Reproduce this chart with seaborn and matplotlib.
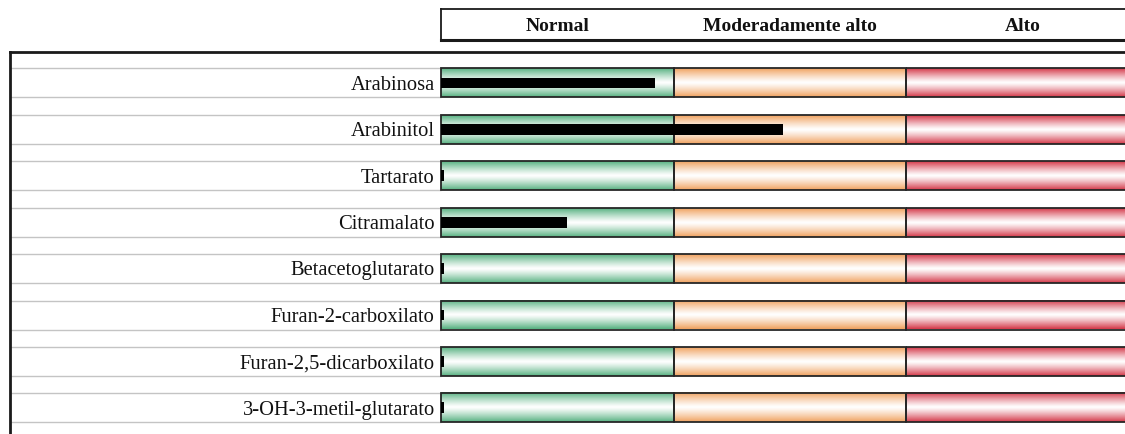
import numpy as np
import pandas as pd
import matplotlib
matplotlib.use("Agg")
import matplotlib.pyplot as plt
from matplotlib.patches import Rectangle
import seaborn as sns

# Analitos y valores relativos (0-1 normal, 1-2 moderadamente alto, 2-3 alto)
analitos = [
    "Arabinosa",
    "Arabinitol",
    "Tartarato",
    "Citramalato",
    "Betacetoglutarato",
    "Furan-2-carboxilato",
    "Furan-2,5-dicarboxilato",
    "3-OH-3-metil-glutarato",
]
valores = [0.92, 1.47, 0.012, 0.54, 0.012, 0.012, 0.012, 0.012]

zonas = ["Normal", "Moderadamente alto", "Alto"]
limites_zona = [0, 1, 2, 3.2]
colores_zona = ["#58b282", "#f0a260", "#d4394a"]

sns.set_theme(style="white")
plt.rcParams["font.family"] = ["Liberation Serif", "DejaVu Serif"]

W, H = 1125, 434
fig = plt.figure(figsize=(W / 100, H / 100), dpi=100)

# pixel geometry of the panel
px_left, px_zero, px_unit = 10, 441, 232.5
px_top, row0, row_step = 52, 83, 46.4
x_min = (px_left - px_zero) / px_unit
x_max = (W - px_zero) / px_unit
y_top = (px_top - row0) / row_step
y_bot = (H - row0) / row_step
half_band = 14.5 / row_step

ax = fig.add_axes([px_left / W, 0, 1 - px_left / W, 1 - px_top / H])

# gradient bands (dark edges, light centre)
t = np.linspace(0, 1, 64)
w = np.abs(2 * t - 1) ** 1.2
def gradiente(color):
    c = np.array(matplotlib.colors.to_rgb(color))
    img = w[:, None] * c[None, :] + (1 - w[:, None]) * np.ones(3)[None, :]
    return img[:, None, :]

for i, _ in enumerate(analitos):
    for k, col in enumerate(colores_zona):
        x0, x1 = limites_zona[k], limites_zona[k + 1]
        ax.imshow(gradiente(col), extent=(x0, x1, i + half_band, i - half_band),
                  aspect="auto", interpolation="bilinear", zorder=0)
        ax.add_patch(Rectangle((x0, i - half_band), x1 - x0, 2 * half_band,
                               fill=False, edgecolor="#262626", lw=1.3, zorder=0.6))
    # guide lines in the label area
    ax.hlines([i - half_band, i + half_band], x_min, 0, color="#c4c4c4", lw=1, zorder=0.5)
    ax.text(-0.027, i + 0.05, analitos[i], ha="right", va="center", fontsize=14.8,
            color="#111111")

df = pd.DataFrame({"analito": analitos, "valor": valores})
sns.barplot(data=df, x="valor", y="analito", orient="h", color="black",
            width=0.23, saturation=1, linewidth=0, edgecolor="black",
            ax=ax, zorder=2)

ax.set_xlim(x_min, x_max)
ax.set_ylim(y_bot, y_top)
ax.set_xlabel("")
ax.set_ylabel("")
ax.set_xticks([])
ax.set_yticks([])
for s in ["right", "bottom"]:
    ax.spines[s].set_visible(False)
for s in ["left", "top"]:
    ax.spines[s].set_visible(True)
    ax.spines[s].set_color("#1a1a1a")
    ax.spines[s].set_linewidth(2)

# header with zone names
hx_right = 1160
hax = fig.add_axes([px_zero / W, 1 - 40 / H, (hx_right - px_zero) / W, 31 / H])
hax.set_xlim(0, (hx_right - px_zero) / px_unit)
hax.set_ylim(0, 1)
hax.set_xticks([])
hax.set_yticks([])
hax.patch.set_alpha(0)
for s in hax.spines.values():
    s.set_color("#1a1a1a")
    s.set_linewidth(1.3)
hax.spines["bottom"].set_linewidth(2.2)
for k, nombre in enumerate(zonas):
    hax.text(k + 0.5, 0.45, nombre, ha="center", va="center", fontsize=14,
             fontweight="bold", color="#111111")

fig.savefig("out.png", dpi=100)
